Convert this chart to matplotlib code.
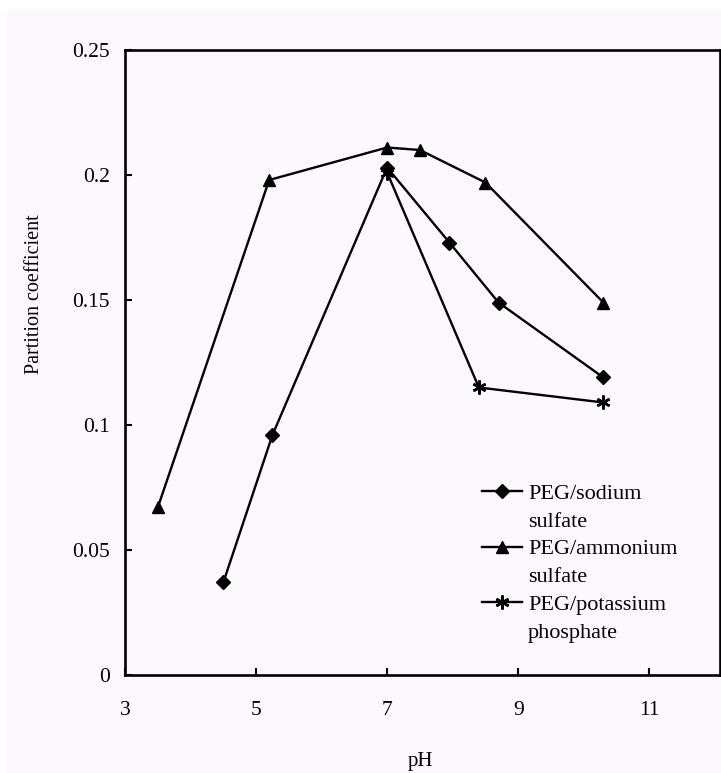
import matplotlib
matplotlib.use("Agg")
import matplotlib.pyplot as plt
from matplotlib.patches import Rectangle
from matplotlib.lines import Line2D

plt.rcParams['font.family'] = ['Liberation Serif', 'DejaVu Serif']

# pH values and partition coefficients for each aqueous two-phase system
ph_sodium = [4.5, 5.25, 7.0, 7.95, 8.7, 10.3]
k_sodium = [0.037, 0.096, 0.203, 0.173, 0.149, 0.119]

ph_ammonium = [3.5, 5.2, 7.0, 7.5, 8.5, 10.3]
k_ammonium = [0.067, 0.198, 0.211, 0.210, 0.197, 0.149]

ph_potassium = [7.0, 8.4, 10.3]
k_potassium = [0.201, 0.115, 0.109]

# legend labels, each split over two lines
labels = [("PEG/sodium", "sulfate"),
          ("PEG/ammonium", "sulfate"),
          ("PEG/potassium", "phosphate")]
x_ticks = [3, 5, 7, 9, 11]
y_ticks = [0, 0.05, 0.1, 0.15, 0.2, 0.25]
y_tick_labels = ["0", "0.05", "0.1", "0.15", "0.2", "0.25"]

bg = '#fdf8fd'
fig = plt.figure(figsize=(7.21, 7.73), dpi=100, facecolor=bg)
# white paper margin along the top and left edges
fig.patches.append(Rectangle((0, 0.987), 1, 0.013, transform=fig.transFigure,
                             facecolor='white', edgecolor='none', zorder=0))
fig.patches.append(Rectangle((0, 0), 0.009, 1, transform=fig.transFigure,
                             facecolor='white', edgecolor='none', zorder=0))

ax = fig.add_axes([0.1734, 0.1268, 0.8252, 0.8085], facecolor=bg)

lw = 1.7
l1, = ax.plot(ph_sodium, k_sodium, color='black', lw=lw, marker='D', ms=7)
l2, = ax.plot(ph_ammonium, k_ammonium, color='black', lw=lw, marker='^', ms=9)
l3, = ax.plot(ph_potassium, k_potassium, color='black', lw=lw,
              marker=(6, 2, 0), ms=10, mew=1.8)

ax.set_xlim(3, 12.08)
ax.set_ylim(0, 0.25)
ax.set_xticks(x_ticks)
ax.set_xticklabels([str(t) for t in x_ticks])
ax.set_yticks(y_ticks)
ax.set_yticklabels(y_tick_labels)

ax.tick_params(axis='both', direction='in', length=5, width=1.5,
               labelsize=15.5, colors='black')
ax.tick_params(axis='x', pad=19)
ax.tick_params(axis='y', pad=11)
for s in ax.spines.values():
    s.set_linewidth(1.9)

ax.set_xlabel("pH", fontsize=15)
ax.xaxis.set_label_coords(0.497, -0.124)
ax.set_ylabel("Partition coefficient", fontsize=14.5)
ax.yaxis.set_label_coords(-0.137, 0.61)

# legend: the marker sits beside the first line of each label
blank = Line2D([], [], linestyle='none', marker=None)
handles, texts = [], []
for line, (first, second) in zip([l1, l2, l3], labels):
    handles += [line, blank]
    texts += [first, second]
ax.legend(handles, texts, loc='upper left', bbox_to_anchor=(0.600, 0.307),
          frameon=False, fontsize=16, handlelength=1.8, handletextpad=0.27,
          labelspacing=0.33, borderaxespad=0, borderpad=0)

fig.savefig("out.png", dpi=100, facecolor=fig.get_facecolor())
